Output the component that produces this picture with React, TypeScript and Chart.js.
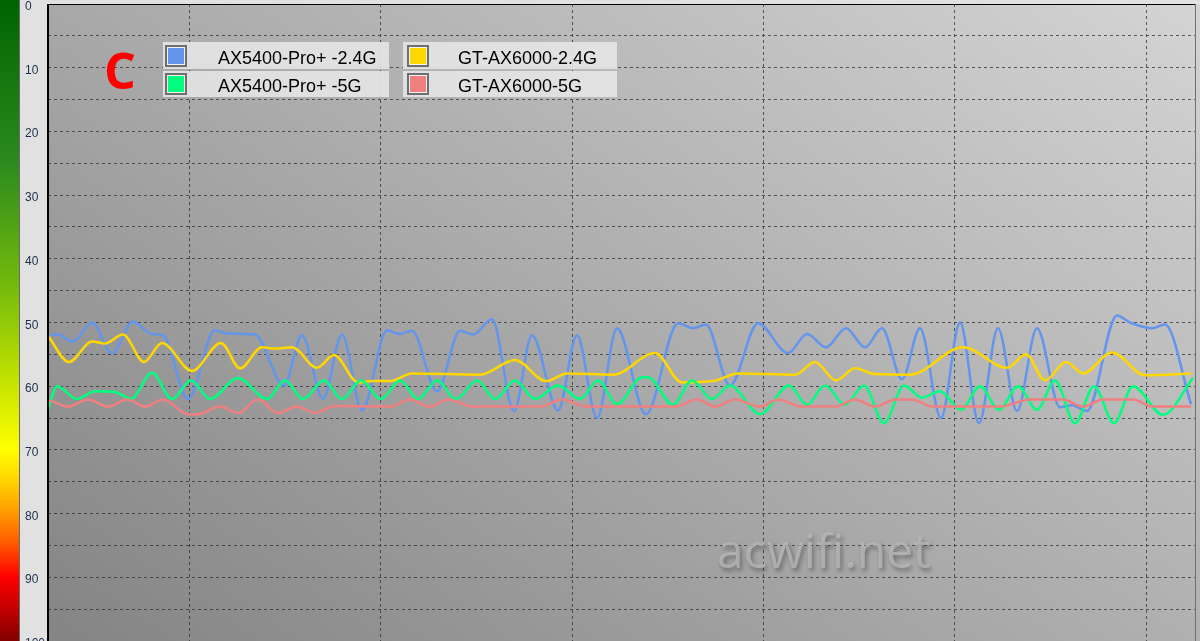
import React, { useEffect, useRef } from 'react';
import { Chart, registerables } from 'chart.js';

Chart.register(...registerables);

// ---- data (time in sample units, signal value on a 0..100 scale, inverted) ----
const SERIES_NAMES = ['AX5400-Pro+ -2.4G', 'AX5400-Pro+ -5G', 'GT-AX6000-2.4G', 'GT-AX6000-5G'];
const SERIES_COLORS = ['#6495ED', '#00FF7F', '#FFD700', '#F08080'];

const BLUE_T = [0, 9, 25, 44, 64, 85, 104, 115, 140, 167, 177, 207, 236, 254, 275, 294, 314, 339, 351, 364, 389, 412, 425, 444, 466, 484, 510, 529, 549, 569, 598, 630, 645, 658, 682, 710, 740, 759, 778, 798, 817, 834, 854, 872, 893, 912, 931, 950, 969, 989, 1012, 1024, 1039, 1069, 1082, 1104, 1117, 1143];
const BLUE_V = [52.1, 51.8, 53.0, 50.0, 54.8, 49.9, 51.8, 52.0, 62.0, 51.2, 51.7, 51.9, 59.9, 52.0, 62.0, 51.9, 63.8, 51.2, 51.8, 51.3, 60.8, 51.3, 51.9, 49.5, 63.9, 52.0, 63.8, 52.0, 65.0, 50.9, 64.4, 50.1, 50.9, 50.3, 59.9, 50.1, 54.8, 51.8, 53.9, 50.9, 53.9, 50.9, 58.9, 50.9, 65.0, 50.0, 65.8, 50.9, 63.9, 50.9, 63.3, 63.0, 63.9, 48.9, 50.0, 50.9, 50.3, 62.8];

const GREEN_T = [0, 9, 29, 47, 67, 83, 104, 124, 143, 162, 190, 219, 237, 255, 276, 294, 313, 333, 352, 370, 389, 408, 429, 447, 467, 487, 510, 532, 550, 569, 594, 600, 625, 644, 664, 682, 712, 741, 759, 777, 797, 816, 836, 856, 874, 892, 913, 932, 951, 970, 989, 1007, 1027, 1046, 1066, 1085, 1115, 1145];
const GREEN_V = [63.7, 60.0, 62.0, 60.8, 60.9, 62.0, 57.9, 62.0, 59.1, 62.0, 58.7, 62.0, 59.1, 62.0, 59.1, 62.0, 59.1, 62.0, 59.1, 62.0, 59.1, 62.0, 59.1, 62.0, 59.1, 62.0, 59.9, 62.0, 59.1, 62.8, 58.6, 58.6, 62.9, 59.1, 62.0, 59.9, 64.4, 59.9, 62.9, 59.9, 62.9, 59.9, 65.8, 59.9, 61.8, 60.8, 63.7, 60.0, 63.7, 60.0, 63.7, 59.1, 65.8, 60.0, 65.8, 60.0, 64.5, 58.7];

const YELLOW_T = [0, 21, 44, 57, 75, 96, 114, 144, 173, 192, 214, 227, 244, 269, 286, 310, 325, 342, 364, 432, 467, 498, 519, 565, 607, 634, 665, 690, 747, 767, 788, 807, 827, 862, 915, 959, 978, 997, 1018, 1035, 1064, 1097, 1143];
const YELLOW_V = [52.1, 56.2, 53.0, 53.3, 51.9, 56.2, 53.2, 57.6, 53.2, 57.2, 53.9, 54.1, 53.9, 57.1, 55.1, 59.4, 59.2, 59.2, 58.0, 58.2, 55.9, 59.2, 58.0, 58.2, 54.8, 59.4, 59.2, 58.0, 58.2, 56.2, 59.1, 57.2, 58.1, 58.2, 53.9, 57.1, 55.0, 59.1, 56.2, 58.0, 54.7, 58.3, 58.0];

const RED_T = [0, 20, 40, 60, 79, 97, 115, 140, 150, 172, 190, 210, 230, 249, 267, 287, 342, 362, 382, 400, 425, 492, 514, 539, 627, 649, 667, 687, 712, 730, 754, 787, 807, 827, 847, 864, 885, 952, 982, 1015, 1035, 1055, 1085, 1105, 1143];
const RED_V = [62.1, 63.2, 62.1, 63.2, 62.1, 63.2, 62.1, 64.4, 64.4, 63.2, 64.2, 62.1, 64.2, 63.2, 64.2, 63.1, 63.2, 62.1, 63.2, 62.1, 63.2, 63.2, 62.1, 63.2, 63.2, 62.1, 63.2, 62.1, 63.2, 62.1, 63.2, 63.2, 62.1, 63.2, 62.1, 62.1, 63.2, 63.2, 62.1, 62.1, 63.2, 62.1, 62.1, 63.2, 63.2];

const Y_LABELS = [0, 10, 20, 30, 40, 50, 60, 70, 80, 90, 100];
const TIME_GRID = [141.5, 332.8, 524.1, 715.4, 906.7, 1098];
const TIME_MAX = 1147;

const toPoints = (t: number[], v: number[]) => t.map((x, i) => ({ x, y: v[i] }));

export default function App() {
  const ref = useRef<HTMLCanvasElement>(null);

  useEffect(() => {
    document.body.style.margin = '0';
    const canvas = ref.current;
    if (!canvas) return;

    const decor = {
      id: 'decor',
      beforeDraw(chart: any) {
        const { ctx, chartArea: a, width, height } = chart;
        ctx.save();
        ctx.fillStyle = '#e1e1e1';
        ctx.fillRect(0, 0, width, height);
        // colour bar
        const g = ctx.createLinearGradient(0, 0, 0, height);
        g.addColorStop(0, '#006400');
        g.addColorStop(0.25, '#2a8a1e');
        g.addColorStop(0.45, '#76bb0c');
        g.addColorStop(0.6, '#c6e400');
        g.addColorStop(0.7, '#ffff00');
        g.addColorStop(0.75, '#ffd400');
        g.addColorStop(0.8, '#ff9a00');
        g.addColorStop(0.85, '#ff5500');
        g.addColorStop(0.9, '#ff0000');
        g.addColorStop(1, '#840000');
        ctx.fillStyle = g;
        ctx.fillRect(0, 0, 19, height);
        ctx.fillStyle = '#6a6a6a';
        ctx.fillRect(19, 0, 1, height);
        // plot background: linear shading, dark bottom-left to light top-right
        const c0 = 132, cx = 44, cy = 36;
        const w = a.right - a.left, h = a.bottom - a.top;
        const gx = cx / w, gy = -cy / h;
        const gl = Math.sqrt(gx * gx + gy * gy);
        const L = (cx + cy) / gl;
        const x0 = a.left, y0 = a.bottom;
        const pg = ctx.createLinearGradient(x0, y0, x0 + (gx / gl) * L, y0 + (gy / gl) * L);
        pg.addColorStop(0, `rgb(${c0},${c0},${c0})`);
        const c1 = c0 + cx + cy;
        pg.addColorStop(1, `rgb(${c1},${c1},${c1})`);
        ctx.fillStyle = pg;
        ctx.fillRect(a.left, a.top, width - a.left, height - a.top);
        ctx.restore();
      },
      afterDraw(chart: any) {
        const { ctx, chartArea: a, width, height } = chart;
        const ys = chart.scales.y;
        ctx.save();
        // borders
        ctx.fillStyle = '#000';
        ctx.fillRect(a.left - 1, a.top, 2, height - a.top);
        ctx.fillRect(a.left - 1, a.top, a.right - a.left + 1, 1);
        ctx.fillStyle = '#707070';
        ctx.fillRect(a.right, a.top, 1, height - a.top);
        // y labels
        ctx.fillStyle = '#1c2c4c';
        ctx.font = '12px "Liberation Sans", Arial, sans-serif';
        ctx.textAlign = 'left';
        ctx.textBaseline = 'alphabetic';
        Y_LABELS.forEach((v) => {
          ctx.fillText(String(v), 25, ys.getPixelForValue(v) + 6);
        });
        // red C
        ctx.fillStyle = '#ff0000';
        ctx.font = 'bold 50px "Open Sans", sans-serif';
        ctx.fillText('C', 104, 89);
        // legend
        const cols = [
          { x: 163, w: 226, sx: 165, tx: 218 },
          { x: 403, w: 214, sx: 407, tx: 458 },
        ];
        const rows = [
          { y: 42, h: 27, sy: 45, by: 64 },
          { y: 71, h: 26, sy: 73, by: 92 },
        ];
        ctx.font = '18px "Liberation Sans", Arial, sans-serif';
        for (let ci = 0; ci < 2; ci++) {
          for (let ri = 0; ri < 2; ri++) {
            const idx = ci * 2 + ri;
            const c = cols[ci], r = rows[ri];
            ctx.fillStyle = 'rgba(228,228,228,0.92)';
            ctx.fillRect(c.x, r.y, c.w, r.h);
            ctx.fillStyle = '#6e6e6e';
            ctx.fillRect(c.sx, r.sy, 22, 22);
            ctx.fillStyle = '#f2f2f2';
            ctx.fillRect(c.sx + 2, r.sy + 2, 18, 18);
            ctx.fillStyle = SERIES_COLORS[idx];
            ctx.fillRect(c.sx + 3, r.sy + 3, 16, 16);
            ctx.fillStyle = '#000';
            ctx.fillText(SERIES_NAMES[idx], c.tx, r.by);
          }
        }
        // watermark
        ctx.font = '48px "Open Sans", sans-serif';
        ctx.shadowColor = 'rgba(40,40,40,0.6)';
        ctx.shadowOffsetX = 2;
        ctx.shadowOffsetY = 3;
        ctx.shadowBlur = 4;
        ctx.fillStyle = 'rgba(185,185,185,0.75)';
        ctx.fillText('acwifi.net', 717, 568);
        ctx.restore();
      },
    };

    const mk = (t: number[], v: number[], i: number, order: number) => ({
      label: SERIES_NAMES[i],
      data: toPoints(t, v),
      borderColor: SERIES_COLORS[i],
      backgroundColor: SERIES_COLORS[i],
      borderWidth: 2.5,
      pointRadius: 0,
      fill: false,
      cubicInterpolationMode: 'monotone' as const,
      order,
    });

    const chart = new Chart(canvas, {
      type: 'line',
      data: {
        datasets: [
          mk(BLUE_T, BLUE_V, 0, 4),
          mk(GREEN_T, GREEN_V, 1, 2),
          mk(YELLOW_T, YELLOW_V, 2, 3),
          mk(RED_T, RED_V, 3, 1),
        ],
      },
      options: {
        animation: false,
        responsive: false,
        devicePixelRatio: 1,
        layout: { padding: { left: 0, top: 4, right: 5, bottom: 0 } },
        plugins: { legend: { display: false }, tooltip: { enabled: false } },
        scales: {
          x: {
            type: 'linear',
            min: 0,
            max: TIME_MAX,
            ticks: { display: false },
            grid: { color: 'rgba(45,45,45,0.75)', lineWidth: 1, drawTicks: false },
            border: { display: false, dash: [3, 3] },
            afterBuildTicks: (s: any) => {
              s.ticks = TIME_GRID.map((value) => ({ value }));
            },
            afterFit: (s: any) => {
              s.height = 0;
            },
          },
          y: {
            type: 'linear',
            min: 0,
            max: 100,
            reverse: true,
            ticks: { display: false, stepSize: 5 },
            grid: { color: 'rgba(45,45,45,0.75)', lineWidth: 1, drawTicks: false },
            border: { display: false, dash: [3, 3] },
            afterFit: (s: any) => {
              s.width = 48;
            },
          },
        },
      },
      plugins: [decor],
    } as any);

    return () => chart.destroy();
  }, []);

  return (
    <div style={{ width: 1200, height: 641 }}>
      <canvas ref={ref} width={1200} height={641} style={{ display: 'block' }} />
    </div>
  );
}
